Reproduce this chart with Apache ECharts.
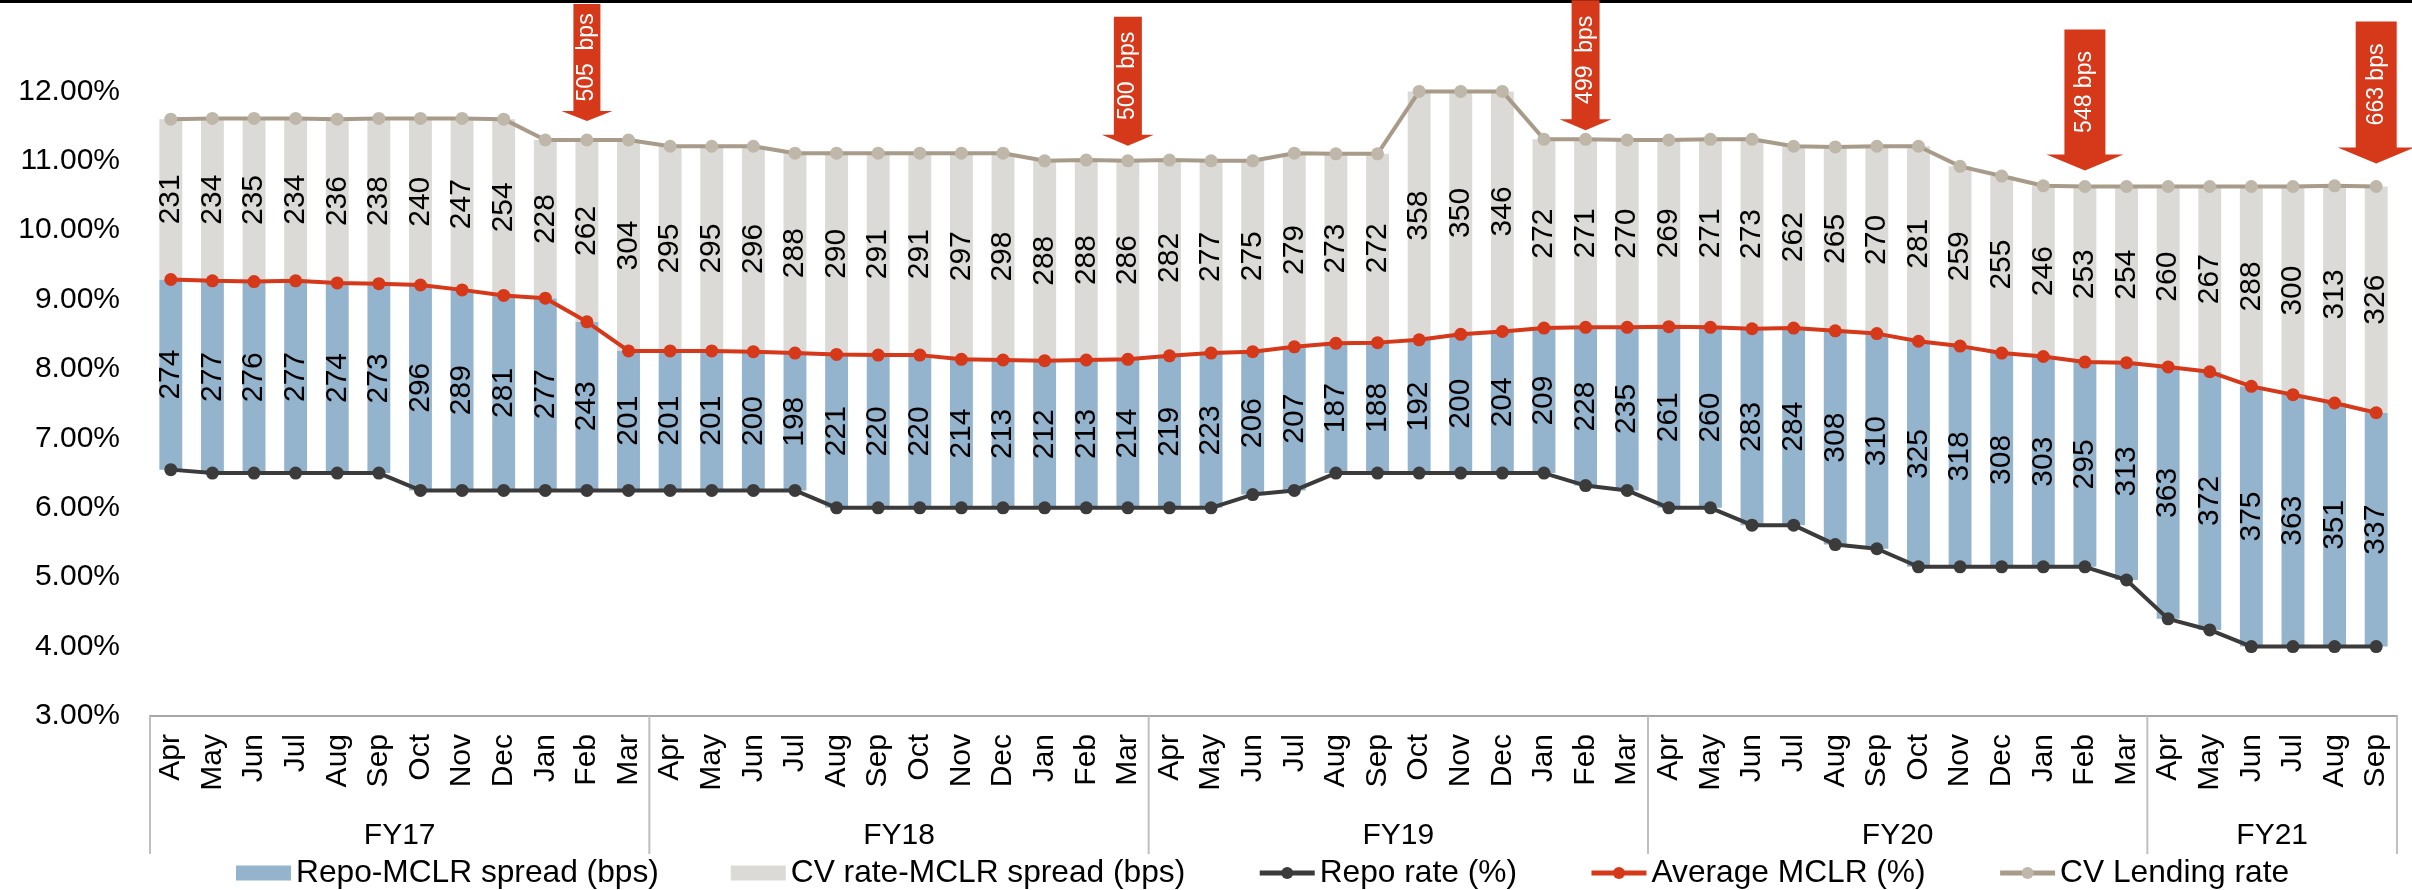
<!DOCTYPE html>
<html>
<head>
<meta charset="utf-8">
<script src="https://cdn.jsdelivr.net/npm/echarts@6/dist/echarts.min.js"></script>
<style>
  html, body { margin: 0; padding: 0; background: #ffffff; }
  #chart { width: 2412px; height: 890px; }
</style>
</head>
<body>
<div id="chart"></div>
<script>
// Fiscal years and the months shown for each
const fiscalYears = ['FY17', 'FY18', 'FY19', 'FY20', 'FY21'];
const monthsPerYear = [12, 12, 12, 12, 6];
const monthNames = ['Apr', 'May', 'Jun', 'Jul', 'Aug', 'Sep', 'Oct', 'Nov', 'Dec', 'Jan', 'Feb', 'Mar'];

// Policy repo rate, monthly average (%)
const repoRate = [
  6.55, 6.50, 6.50, 6.50, 6.50, 6.50, 6.25, 6.25, 6.25, 6.25, 6.25, 6.25,
  6.25, 6.25, 6.25, 6.25, 6.00, 6.00, 6.00, 6.00, 6.00, 6.00, 6.00, 6.00,
  6.00, 6.00, 6.19, 6.25, 6.50, 6.50, 6.50, 6.50, 6.50, 6.50, 6.32, 6.25,
  6.00, 6.00, 5.75, 5.75, 5.47, 5.41, 5.15, 5.15, 5.15, 5.15, 5.15, 4.96,
  4.40, 4.24, 4.00, 4.00, 4.00, 4.00
];

// Average MCLR minus repo rate (bps)
const repoMclrSpread = [
  274, 277, 276, 277, 274, 273, 296, 289, 281, 277, 243, 201,
  201, 201, 200, 198, 221, 220, 220, 214, 213, 212, 213, 214,
  219, 223, 206, 207, 187, 188, 192, 200, 204, 209, 228, 235,
  261, 260, 283, 284, 308, 310, 325, 318, 308, 303, 295, 313,
  363, 372, 375, 363, 351, 337
];

// CV lending rate minus average MCLR (bps)
const cvMclrSpread = [
  231, 234, 235, 234, 236, 238, 240, 247, 254, 228, 262, 304,
  295, 295, 296, 288, 290, 291, 291, 297, 298, 288, 288, 286,
  282, 277, 275, 279, 273, 272, 358, 350, 346, 272, 271, 270,
  269, 271, 273, 262, 265, 270, 281, 259, 255, 246, 253, 254,
  260, 267, 288, 300, 313, 326
];

// Months flagged with the total CV rate - repo gap
const gapMonths = [10, 23, 34, 46, 53];

// Value axis range (%)
const yMin = 3, yMax = 13, yStep = 1;

// ---- derived series ----
const categories = [];
const groups = [];
fiscalYears.forEach((fy, i) => {
  const start = categories.length;
  monthNames.slice(0, monthsPerYear[i]).forEach(m => categories.push(fy + ' ' + m));
  groups.push([start, yMin, categories.length - 1]);
});
const round2 = v => Math.round(v * 100) / 100;
const mclr = repoRate.map((r, i) => round2(r + repoMclrSpread[i] / 100));
const cvRate = mclr.map((m, i) => round2(m + cvMclrSpread[i] / 100));

// Arrow call-out drawing parameters (pixels)
const arrowLook = [
  { gap: 19, len: 117, head: 10, shaft: 27, headW: 51, sep: '  ' },
  { gap: 15, len: 129, head: 11, shaft: 28, headW: 52, sep: '  ' },
  { gap: 9,  len: 130, head: 11, shaft: 28, headW: 52, sep: '  ' },
  { gap: 16, len: 141, head: 16, shaft: 41, headW: 77, sep: ' ' },
  { gap: 23, len: 142, head: 16, shaft: 41, headW: 77, sep: ' ' }
];

const FONT = "'Liberation Sans', Arial, sans-serif";
const C_BLUE = '#94B3CD', C_GREY = '#DBDAD6', C_RED = '#D6381A',
      C_REPO = '#3B3B3B', C_CV_LINE = '#A99B89', C_CV_DOT = '#BFB7A9';

const chart = echarts.init(document.getElementById('chart'), null, { renderer: 'canvas' });

const barLabel = (arr) => ({
  show: true, position: 'inside', rotate: 90,
  color: '#000', fontSize: 30, fontFamily: FONT,
  formatter: p => String(arr[p.dataIndex])
});

const lineSeries = (name, data, lineColor, dotColor) => ({
  name, type: 'line', data, z: 4,
  symbol: 'circle', symbolSize: 13, showSymbol: true,
  lineStyle: { color: lineColor, width: 4 },
  itemStyle: { color: dotColor },
  label: { show: false }
});

chart.setOption({
  animation: false,
  backgroundColor: '#ffffff',
  textStyle: { fontFamily: FONT },
  grid: { left: 150, right: 15, top: 22, bottom: 174, containLabel: false },
  xAxis: {
    type: 'category', data: categories, boundaryGap: true,
    axisLine: { show: true, lineStyle: { color: '#A6A6A6', width: 2 } },
    axisTick: { show: false },
    axisLabel: {
      interval: 0, rotate: 90, margin: 18,
      color: '#000', fontSize: 30, fontFamily: FONT,
      formatter: v => v.split(' ')[1]
    },
    splitLine: { show: false }
  },
  yAxis: {
    type: 'value', min: yMin, max: yMax, interval: yStep,
    axisLine: { show: false }, axisTick: { show: false }, splitLine: { show: false },
    axisLabel: {
      margin: 30, color: '#000', fontSize: 30, fontFamily: FONT,
      showMaxLabel: false,
      formatter: v => v.toFixed(2) + '%'
    }
  },
  legend: {
    top: 852, left: 231,
    itemWidth: 55, itemHeight: 15, itemGap: 72,
    lineStyle: { width: 5 },
    textStyle: { fontSize: 31.7, color: '#000', fontFamily: FONT },
    data: [
      { name: 'Repo-MCLR spread (bps)', icon: 'rect' },
      { name: 'CV rate-MCLR spread (bps)', icon: 'rect' },
      'Repo rate (%)', 'Average MCLR (%)', 'CV Lending rate'
    ]
  },
  series: [
    {
      name: 'base', type: 'bar', stack: 'rate', data: repoRate, barWidth: '55%',
      itemStyle: { color: 'rgba(0,0,0,0)' }, silent: true, label: { show: false }
    },
    {
      name: 'Repo-MCLR spread (bps)', type: 'bar', stack: 'rate', barWidth: '55%',
      data: repoMclrSpread.map(v => v / 100),
      itemStyle: { color: C_BLUE }, label: barLabel(repoMclrSpread)
    },
    {
      name: 'CV rate-MCLR spread (bps)', type: 'bar', stack: 'rate', barWidth: '55%',
      data: cvMclrSpread.map(v => v / 100),
      itemStyle: { color: C_GREY }, label: barLabel(cvMclrSpread)
    },
    lineSeries('Repo rate (%)', repoRate, C_REPO, C_REPO),
    lineSeries('Average MCLR (%)', mclr, C_RED, C_RED),
    lineSeries('CV Lending rate', cvRate, C_CV_LINE, C_CV_DOT),
    {
      // red call-out arrows pointing at the CV lending rate
      name: 'gap', type: 'custom', clip: false, z: 6, silent: true,
      encode: { x: 0, y: 1 },
      data: gapMonths.map(i => [i, cvRate[i]]),
      renderItem: (params, api) => {
        const k = params.dataIndex;
        const idx = gapMonths[k];
        const look = arrowLook[k];
        const p = api.coord([api.value(0), api.value(1)]);
        const x = p[0];
        const yTip = p[1] - look.gap;
        const yHead = yTip - look.head;
        const yTop = yTip - look.len;
        const sw = look.shaft / 2, hw = look.headW / 2;
        const bps = repoMclrSpread[idx] + cvMclrSpread[idx];
        return {
          type: 'group',
          children: [
            {
              type: 'polygon',
              shape: { points: [[x - sw, yTop], [x + sw, yTop], [x + sw, yHead], [x + hw, yHead],
                                [x, yTip], [x - hw, yHead], [x - sw, yHead]] },
              style: { fill: C_RED }
            },
            {
              type: 'text', x: x, y: (yTop + yHead) / 2, rotation: Math.PI / 2,
              style: {
                text: bps + look.sep + 'bps', fill: '#ffffff',
                fontSize: 23, fontFamily: FONT, align: 'center', verticalAlign: 'middle'
              }
            }
          ]
        };
      }
    },
    {
      // fiscal-year group labels and dividers under the month axis
      name: 'fy', type: 'custom', clip: false, z: 1, silent: true,
      encode: { x: 0, y: 1 },
      data: groups,
      renderItem: (params, api) => {
        const k = params.dataIndex;
        const band = api.size([1, 0])[0];
        const a = api.coord([api.value(0), api.value(1)]);
        const b = api.coord([api.value(2), api.value(1)]);
        const x0 = a[0] - band / 2, x1 = b[0] + band / 2, y0 = a[1];
        const lineStyle = { stroke: '#BFBFBF', lineWidth: 2 };
        const children = [
          { type: 'line', shape: { x1: x1, y1: y0, x2: x1, y2: y0 + 138 }, style: lineStyle },
          {
            type: 'text', x: (x0 + x1) / 2, y: y0 + 120,
            style: { text: fiscalYears[k], fill: '#000', fontSize: 30, fontFamily: FONT,
                     align: 'center', verticalAlign: 'middle' }
          }
        ];
        if (k === 0) {
          children.push({ type: 'line', shape: { x1: x0, y1: y0, x2: x0, y2: y0 + 138 }, style: lineStyle });
        }
        return { type: 'group', children };
      }
    }
  ],
  graphic: [
    { type: 'rect', left: 0, top: 0, shape: { width: 2412, height: 3 }, style: { fill: '#000' } }
  ]
});
</script>
</body>
</html>
